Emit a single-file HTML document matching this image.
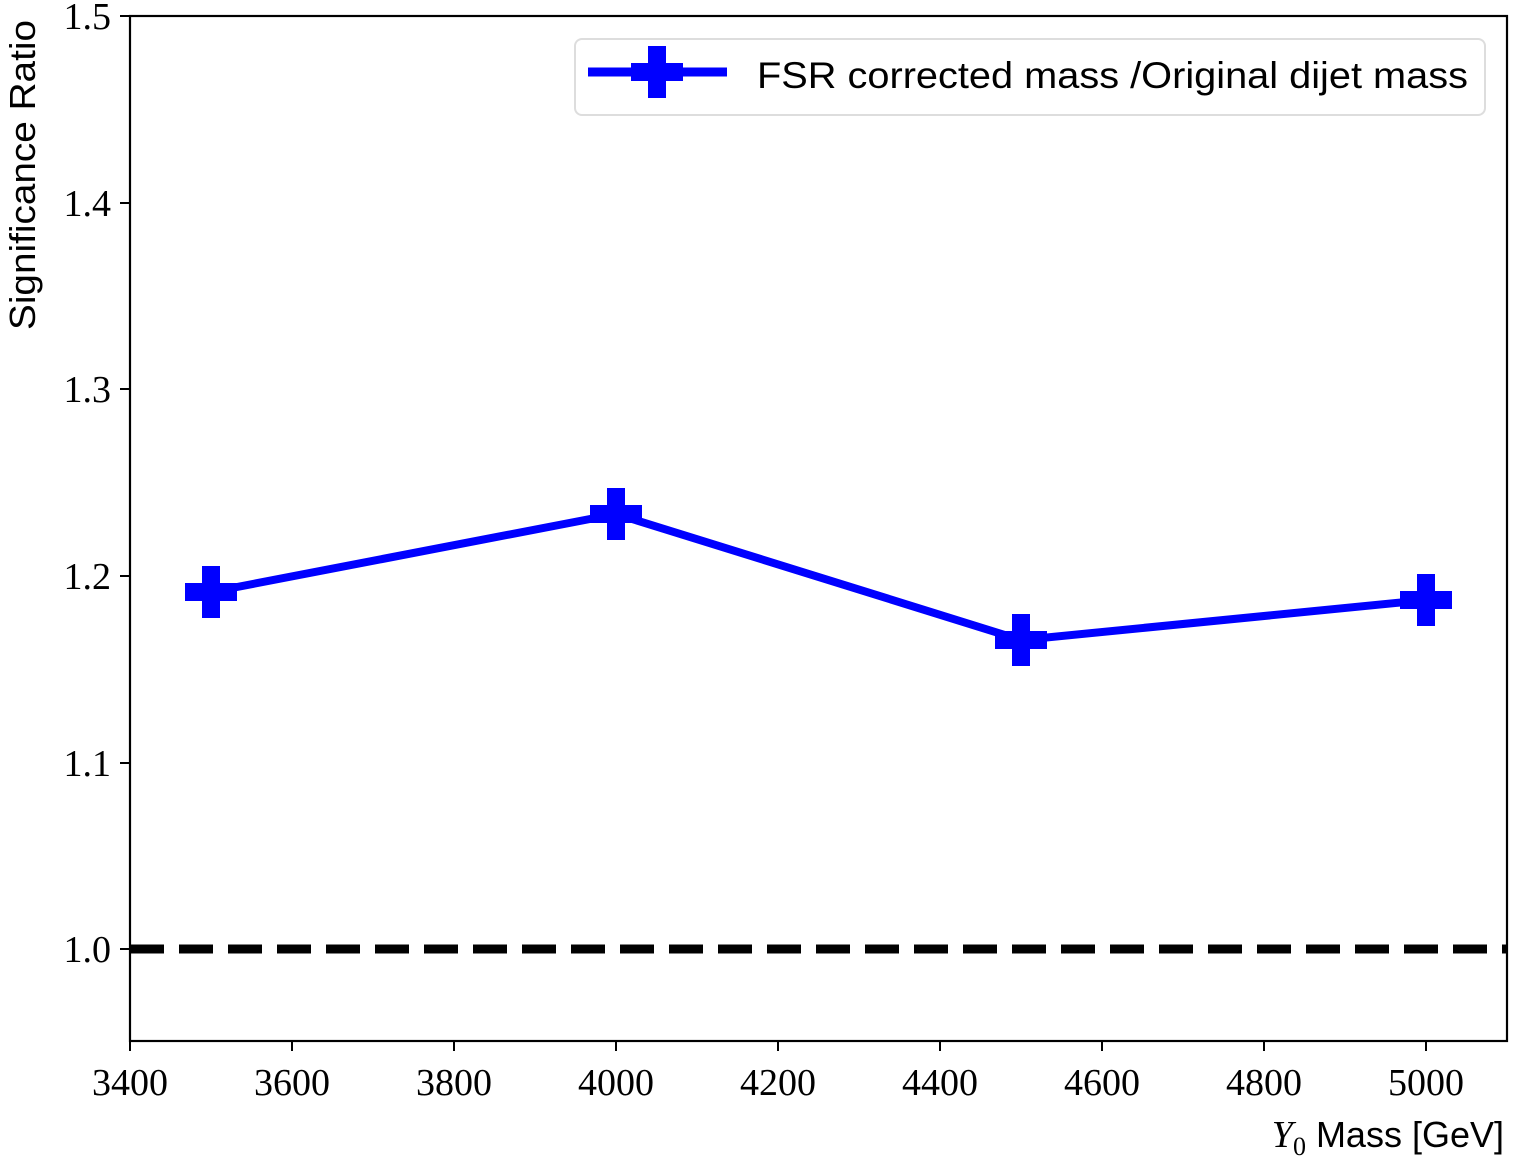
<!DOCTYPE html>
<html><head><style>body{margin:0;background:#fff}svg{display:block}</style></head><body>
<svg width="1513" height="1161" xmlns="http://www.w3.org/2000/svg">
<rect width="1513" height="1161" fill="#fff"/>
<line x1="130" y1="949" x2="1507" y2="949" stroke="#000" stroke-width="9" stroke-dasharray="34,15"/>
<polyline points="211,592 616,514 1021,640 1426,600" fill="none" stroke="#0000ff" stroke-width="8" stroke-linejoin="round"/>
<g fill="#0000ff">
<path d="M-9,-26h18v17h17v18h-17v17h-18v-17h-17v-18h17z" transform="translate(211,592)"/>
<path d="M-9,-26h18v17h17v18h-17v17h-18v-17h-17v-18h17z" transform="translate(616,514)"/>
<path d="M-9,-26h18v17h17v18h-17v17h-18v-17h-17v-18h17z" transform="translate(1021,640)"/>
<path d="M-9,-26h18v17h17v18h-17v17h-18v-17h-17v-18h17z" transform="translate(1426,600)"/>
</g>
<rect x="130" y="16" width="1377" height="1025" fill="none" stroke="#000" stroke-width="2.2"/>
<g stroke="#000" stroke-width="2">
<line x1="130" y1="1041" x2="130" y2="1051"/><line x1="292" y1="1041" x2="292" y2="1051"/><line x1="454" y1="1041" x2="454" y2="1051"/><line x1="616" y1="1041" x2="616" y2="1051"/><line x1="778" y1="1041" x2="778" y2="1051"/><line x1="940" y1="1041" x2="940" y2="1051"/><line x1="1102" y1="1041" x2="1102" y2="1051"/><line x1="1264" y1="1041" x2="1264" y2="1051"/><line x1="1426" y1="1041" x2="1426" y2="1051"/>
<line x1="120" y1="16" x2="130" y2="16"/><line x1="120" y1="203" x2="130" y2="203"/><line x1="120" y1="389" x2="130" y2="389"/><line x1="120" y1="576" x2="130" y2="576"/><line x1="120" y1="763" x2="130" y2="763"/><line x1="120" y1="949" x2="130" y2="949"/>
</g>
<g font-family="Liberation Serif, serif" font-size="38" text-anchor="middle">
<text x="130" y="1095">3400</text><text x="292" y="1095">3600</text><text x="454" y="1095">3800</text><text x="616" y="1095">4000</text><text x="778" y="1095">4200</text><text x="940" y="1095">4400</text><text x="1102" y="1095">4600</text><text x="1264" y="1095">4800</text><text x="1426" y="1095">5000</text>
</g>
<g font-family="Liberation Serif, serif" font-size="38" text-anchor="end">
<text x="111" y="29">1.5</text><text x="111" y="216">1.4</text><text x="111" y="402">1.3</text><text x="111" y="589">1.2</text><text x="111" y="776">1.1</text><text x="111" y="962">1.0</text>
</g>
<text x="1504" y="1147" text-anchor="end" font-family="Liberation Sans, sans-serif" font-size="36"><tspan font-family="Liberation Serif, serif" font-style="italic" font-size="38">Y</tspan><tspan font-family="Liberation Serif, serif" font-size="26" dy="8">0</tspan><tspan dy="-8"> Mass [GeV]</tspan></text>
<text transform="translate(35,175) rotate(-90)" text-anchor="middle" font-family="Liberation Sans, sans-serif" font-size="36" textLength="310" lengthAdjust="spacingAndGlyphs">Significance Ratio</text>
<rect x="575" y="39" width="910" height="76" rx="7" fill="#fff" stroke="#ddd" stroke-width="2"/>
<line x1="588" y1="72" x2="727" y2="72" stroke="#0000ff" stroke-width="9"/>
<path d="M-9,-26h18v17h17v18h-17v17h-18v-17h-17v-18h17z" transform="translate(657,72)" fill="#0000ff"/>
<text x="757" y="88" font-family="Liberation Sans, sans-serif" font-size="37" textLength="711" lengthAdjust="spacingAndGlyphs">FSR corrected mass /Original dijet mass</text>
</svg>
</body></html>
